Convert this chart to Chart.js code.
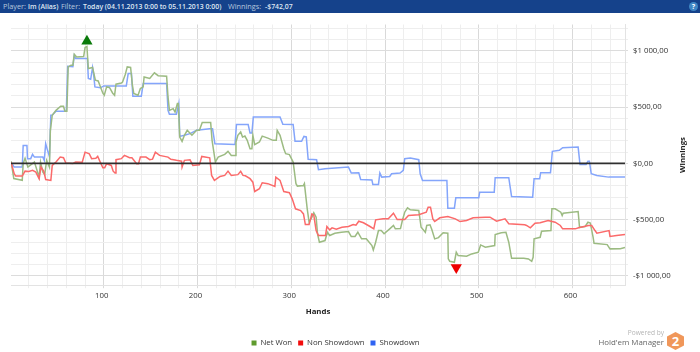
<!DOCTYPE html>
<html lang="en">
  <head>
    <meta charset="UTF-8" />
    <title>Winnings graph</title>
    <script src="https://cdn.jsdelivr.net/npm/chart.js"></script>
    <style>
      body {
        margin: 0;
        width: 700px;
        height: 352px;
        position: relative;
        overflow: hidden;
        background: #ffffff;
        font-family: "Open Sans", sans-serif;
      }

      #chart-box {
        position: absolute;
        left: 0;
        top: 0;
        width: 700px;
        height: 352px;
      }

      .top-bar {
        position: absolute;
        left: 0;
        top: 0;
        width: 700px;
        height: 13px;
        background: #15428b;
        color: #b9c8de;
        font-size: 7.3px;
        line-height: 13px;
        white-space: pre;
        z-index: 2;
      }

      .top-bar span {
        position: absolute;
        top: 0;
      }

      .top-bar b {
        position: absolute;
        top: 0;
        color: #dfe7f2;
        font-size: 6.9px;
        font-weight: 600;
      }

      .top-bar .help {
        left: 689px;
        top: 2px;
        width: 9px;
        height: 9px;
        border-radius: 50%;
        background: #3f86c4;
        color: #ffffff;
        font-size: 7px;
        font-weight: 700;
        line-height: 9px;
        text-align: center;
      }

      .brand {
        position: absolute;
        right: 36px;
        top: 328px;
        text-align: right;
        z-index: 2;
      }

      .brand .powered {
        color: #b5b5b5;
        font-size: 6.6px;
        line-height: 9px;
      }

      .brand .name {
        color: #666666;
        font-size: 7.9px;
        line-height: 10px;
      }

      .hex {
        position: absolute;
        left: 667px;
        top: 332px;
        width: 17px;
        height: 18px;
        background: #f0975a;
        clip-path: polygon(50% 0, 100% 25%, 100% 75%, 50% 100%, 0 75%, 0 25%);
        color: #ffffff;
        font-size: 13px;
        font-weight: 700;
        line-height: 18px;
        text-align: center;
        z-index: 2;
      }

      .y-title {
        position: absolute;
        left: 652px;
        top: 149px;
        width: 60px;
        height: 12px;
        line-height: 12px;
        text-align: center;
        color: #222222;
        font-size: 7.8px;
        font-weight: 700;
        transform: rotate(-90deg);
        z-index: 2;
      }
    </style>
  </head>
  <body>
    <div id="chart-box"><canvas id="winningsChart" width="700" height="352"></canvas></div>
    <div class="top-bar"><span style="left: 3px">Player:</span><b style="left: 28px">lm (Alias)</b><span style="left: 61px">Filter:</span><b style="left: 83px">Today (04.11.2013 0:00 to 05.11.2013 0:00)</b><span style="left: 228px">Winnings:</span><b style="left: 265px">-$742,07</b><span class="help">?</span></div>
    <div class="brand">
      <div class="powered">Powered by</div>
      <div class="name">Hold'em Manager</div>
    </div>
    <div class="hex">2</div>
    <div class="y-title">Winnings</div>

    <script>
      const handTicks = [20, 40, 60, 80, 100, 120, 140, 160, 180, 200, 220, 240, 260, 280, 300, 320, 340, 360, 380, 400, 420, 440, 460, 480, 500, 520, 540, 560, 580, 600, 620, 640];
      const winningTicks = [-1000, -900, -800, -700, -600, -500, -400, -300, -200, -100, 0, 100, 200, 300, 400, 500, 600, 700, 800, 900, 1000, 1100, 1200];

      const netWonHands = [1, 4, 13, 14, 16, 19, 26, 31, 32.5, 35, 37, 39, 42, 43, 45, 49, 54, 57, 58.5, 60.6, 62, 65, 67, 68.5, 71, 78.5, 80, 82, 83.5, 88, 91, 94, 99, 100.5, 103, 106, 109.5, 111.5, 113, 118.7, 120, 123, 125, 128.6, 130.5, 132, 136.5, 139, 142, 143, 149, 154, 158, 167, 168.5, 170, 174, 176, 178.5, 179.5, 181, 183.5, 186, 189, 194, 199, 202, 205, 214, 215.5, 219, 222, 229, 232.5, 236, 240, 241, 243, 246, 248, 250.5, 253, 256, 258, 259, 261, 266, 269, 275, 280.5, 284, 285, 288, 292, 294, 298, 302, 305, 306.5, 313, 314, 317, 319, 322, 324, 326.5, 328, 330, 336, 338.5, 341, 346.5, 353.5, 361, 364, 368, 371, 375, 380, 386, 387.5, 390, 393, 396, 399, 405, 409, 411, 416.5, 418.5, 421, 424, 427, 436, 438.5, 443, 444.5, 448, 450, 453, 457, 462, 467, 467.5, 469, 474, 476, 478, 487, 492.5, 499.5, 502, 507, 517, 517.5, 524, 529, 532, 535, 548, 553, 556.5, 558, 559, 565.5, 567, 577, 578, 581.5, 587.5, 589, 590, 606, 607.5, 613.5, 616.5, 619, 622, 623, 637, 640, 651, 656];
      const netWonValues = [20, -135, -150, 0, 45, -33, 12, -122, 12, -77, -100, 27, -33, 294, 428, 472, 508, 508, 463, 463, 858, 873, 873, 971, 947, 950, 1030, 1040, 843, 853, 740, 733, 624, 606, 680, 675, 624, 606, 704, 715, 724, 793, 858, 853, 695, 621, 606, 665, 680, 769, 755, 805, 780, 775, 591, 472, 487, 457, 532, 532, 234, 196, 250, 294, 250, 294, 294, 363, 363, 205, 12, 56, 80, 107, 71, 71, 190, 250, 279, 234, 243, 205, 131, 131, 250, 167, 190, 243, 225, 205, 205, 294, 250, 131, 86, 78, 12, -181, -202, -196, -180, -404, -523, -478, -439, -478, -626, -701, -686, -612, -641, -621, -612, -606, -650, -650, -612, -671, -671, -730, -769, -701, -597, -597, -626, -582, -552, -582, -580, -508, -434, -395, -413, -419, -568, -612, -552, -546, -590, -671, -660, -617, -621, -849, -870, -879, -790, -820, -826, -805, -790, -725, -745, -730, -633, -617, -612, -701, -844, -844, -850, -870, -835, -671, -657, -603, -597, -404, -404, -434, -463, -443, -428, -568, -561, -523, -530, -657, -710, -722, -760, -758, -748];

      const nonShowdownHands = [1, 4.4, 6, 13, 16, 20, 24, 27.5, 31, 33, 36, 38, 43.5, 45, 49, 53.5, 57, 59.5, 67, 70, 77, 80, 84.5, 87, 91.5, 93.5, 97, 99, 101, 103, 108, 110, 112, 113, 118.7, 122, 127.5, 130, 135, 137, 139, 145, 149, 152, 155, 159.5, 168.5, 171.5, 177.5, 183, 183.5, 186, 192, 195, 202, 204.5, 213, 215, 218, 224, 229, 232.5, 236, 243, 246, 248.5, 251, 256, 259, 261, 266, 269, 275, 282.5, 283.5, 288, 292, 298, 301, 304.5, 310, 313, 315, 319, 322, 324, 326.5, 329, 336.5, 338, 341, 343.5, 348, 354, 361, 366, 369, 372, 377, 384, 388, 390, 398, 403.5, 409, 413, 421, 425, 436, 444, 446, 448.5, 451, 453, 458.5, 467, 475, 480, 487, 494, 507, 512, 519, 528, 532, 549, 551, 555, 560, 565.5, 574, 581.5, 587, 589.5, 603, 606.5, 617, 620.5, 624, 626, 639, 640, 647, 656];
      const nonShowdownValues = [10, -92, -113, -113, -69, -72, -62, -77, -136, -33, -70, -143, -151, -18, 12, 56, 50, 3, 0, 12, 10, 100, 86, 42, 45, 62, -3, -38, -38, -3, -18, -69, -86, 33, 42, 71, 50, 50, -3, -3, 56, 56, 33, 38, 100, 71, 56, 36, 27, 20, -33, 27, 32, -18, -13, 62, 50, -107, -151, -116, -107, -69, -107, -100, -71, -107, -110, -136, -167, -250, -225, -172, -180, -205, -122, -151, -250, -261, -315, -404, -419, -449, -544, -544, -449, -460, -597, -641, -641, -561, -591, -573, -585, -568, -561, -543, -550, -514, -528, -561, -582, -502, -493, -493, -443, -499, -499, -463, -457, -434, -389, -389, -493, -517, -484, -472, -493, -517, -508, -484, -478, -478, -514, -493, -537, -546, -552, -573, -532, -528, -508, -523, -552, -582, -582, -573, -552, -552, -597, -621, -597, -650, -641, -633];

      const showdownHands = [1, 4.4, 13, 14, 18, 18.6, 22, 24, 26, 35, 36.5, 38, 40, 42, 43.5, 45, 49, 60, 61.5, 67, 68.5, 70, 82.5, 83.5, 86, 88, 89, 90.5, 96.5, 100, 124, 126, 129.5, 131, 140, 142, 167, 168.5, 170, 177.5, 180, 181, 186, 192, 199, 213, 216, 218.5, 240, 241.5, 254, 256, 258, 259.5, 288, 291, 302, 304, 311, 313.5, 316, 318, 327, 329, 336, 361, 364, 372, 374, 386, 387, 393, 394.5, 396.5, 405, 407, 416, 419.5, 421, 427, 436, 437.5, 440, 466, 467, 474, 475.5, 500, 501, 516.5, 517.5, 532, 535, 557.5, 559, 565, 566, 576.5, 578.5, 586, 589.5, 606, 608, 614.5, 616.5, 618, 620, 626, 638.5, 656];
      const showdownValues = [10, -33, -33, 160, 160, 42, 42, 80, 56, 56, 27, 175, 116, 60, 428, 430, 463, 463, 864, 860, 960, 933, 933, 755, 748, 853, 800, 680, 672, 689, 689, 799, 799, 597, 597, 710, 710, 472, 437, 437, 532, 240, 250, 265, 294, 309, 309, 175, 169, 345, 345, 270, 270, 412, 412, 347, 345, 196, 196, 240, 235, 36, 32, -56, -47, -33, -86, -83, -143, -147, -187, -187, -86, -122, -116, -92, -86, -62, 42, 47, 33, -92, -151, -151, -398, -398, -306, -306, -256, -256, -127, -127, -294, -300, -136, -136, -83, -83, 107, 116, 140, 145, -9, -9, 20, 20, -92, -107, -122, -122];

      const zeroHands = [1, 656];
      const zeroValues = [0, 0];
      const bestHand = [82];
      const bestValue = [1087];
      const worstHand = [476];
      const worstValue = [-925];

      const legendColors = ["#5f9b2e", "#f20d0d", "#2f63f2"];

      function zip(hands, values) {
        return hands.map((h, i) => ({ x: h, y: values[i] }));
      }

      function money(value) {
        const whole = Math.abs(value);
        const text = whole >= 1000 ? Math.floor(whole / 1000) + " " + String(whole % 1000).padStart(3, "0") : String(whole);
        return (value < 0 ? "-$" : "$") + text + ",00";
      }

      // the legend sits left of the canvas centre and lower than chart.js puts it
      const moveLegend = {
        id: "moveLegend",
        afterLayout: (chart) => {
          chart.legend.left -= 20;
          chart.legend.right -= 20;
          chart.legend.top += 8;
          chart.legend.bottom += 8;
        },
      };

      const ctx = document.getElementById("winningsChart").getContext("2d");

      new Chart(ctx, {
        type: "line",
        plugins: [moveLegend],
        data: {
          datasets: [
            { label: "Net Won", data: zip(netWonHands, netWonValues), borderColor: "#9cbb82", order: 3 },
            { label: "Non Showdown", data: zip(nonShowdownHands, nonShowdownValues), borderColor: "#fb6a6a", order: 2 },
            { label: "Showdown", data: zip(showdownHands, showdownValues), borderColor: "#84a5fb", order: 4 },
            { label: "zero", data: zip(zeroHands, zeroValues), borderColor: "#2f2f2f", borderWidth: 1.8, order: 1 },
            {
              label: "best",
              data: zip(bestHand, bestValue),
              showLine: false,
              pointRadius: 6.5,
              pointStyle: "triangle",
              pointBackgroundColor: "#0a7a0a",
              pointBorderWidth: 0,
              order: 0,
            },
            {
              label: "worst",
              data: zip(worstHand, worstValue),
              showLine: false,
              pointRadius: 6.5,
              pointStyle: "triangle",
              pointRotation: 180,
              pointBackgroundColor: "#ee0000",
              pointBorderWidth: 0,
              order: 0,
            },
          ],
        },
        options: {
          responsive: false,
          animation: false,
          layout: { padding: { left: 11, top: 24.5, right: 0, bottom: 3 } },
          elements: {
            line: { borderWidth: 1.5, tension: 0 },
            point: { radius: 0 },
          },
          scales: {
            x: {
              type: "linear",
              min: 1,
              max: 656,
              afterBuildTicks: (axis) => {
                axis.ticks = handTicks.map((v) => ({ value: v }));
              },
              afterFit: (axis) => {
                axis.height = 40;
              },
              border: { color: "#e3e3e3" },
              grid: {
                color: (c) => (c.tick && c.tick.value % 100 === 0 ? "#d9d9d9" : "#eeeeee"),
                lineWidth: 1,
                tickLength: 3,
              },
              ticks: {
                autoSkip: false,
                maxRotation: 0,
                padding: 3,
                labelOffset: -2,
                color: "#333333",
                font: { family: "Open Sans", size: 7.8 },
                callback: (v) => (v % 100 === 0 ? String(v) : ""),
              },
              title: {
                display: true,
                text: "Hands",
                padding: { top: 4, bottom: 9 },
                color: "#222222",
                font: { family: "Open Sans", size: 7.8, weight: "bold" },
              },
            },
            y: {
              position: "right",
              min: -1083,
              max: 1235,
              afterBuildTicks: (axis) => {
                axis.ticks = winningTicks.map((v) => ({ value: v }));
              },
              afterFit: (axis) => {
                axis.width = 75;
              },
              border: { color: "#e3e3e3" },
              grid: {
                color: (c) => (c.tick && c.tick.value % 500 === 0 ? "#dcdcdc" : "#eeeeee"),
                lineWidth: 1,
                tickLength: 3,
              },
              ticks: {
                autoSkip: false,
                align: "center",
                padding: 5,
                color: "#333333",
                font: { family: "Open Sans", size: 7.8 },
                callback: (v) => (v % 500 === 0 ? money(v) : ""),
              },
            },
          },
          plugins: {
            tooltip: { enabled: false },
            legend: {
              position: "bottom",
              labels: {
                boxWidth: 5,
                boxHeight: 5,
                padding: 6,
                color: "#333333",
                font: { family: "Open Sans", size: 7.8 },
                generateLabels: (chart) =>
                  chart.data.datasets.slice(0, 3).map((ds, i) => ({
                    text: ds.label,
                    fillStyle: legendColors[i],
                    strokeStyle: legendColors[i],
                    lineWidth: 0,
                    fontColor: "#333333",
                    datasetIndex: i,
                  })),
              },
            },
          },
        },
      });
    </script>
  </body>
</html>
